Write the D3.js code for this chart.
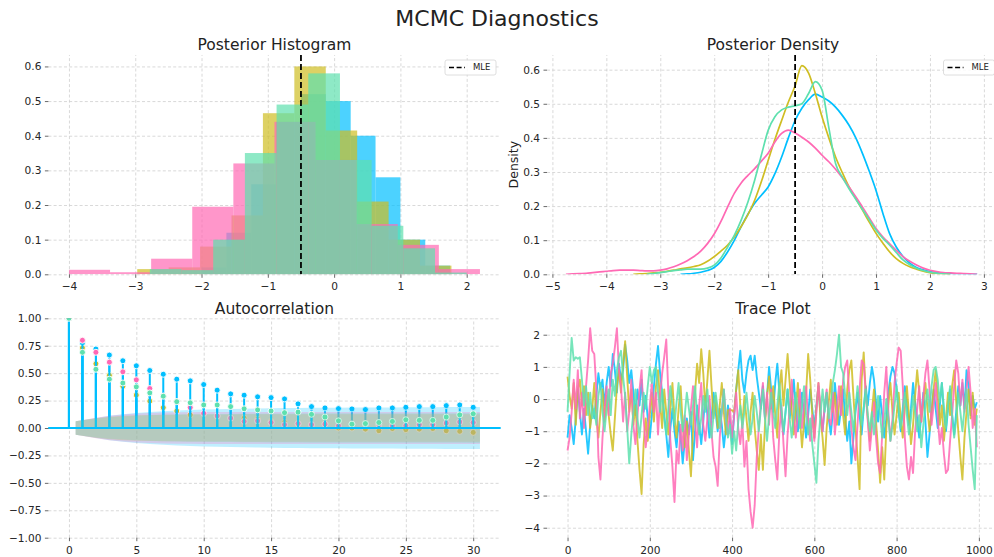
<!DOCTYPE html>
<html><head><meta charset="utf-8">
<script src="https://cdn.jsdelivr.net/npm/d3@7"></script>
<style>
html,body{margin:0;padding:0;background:#fff;}
svg{display:block;font-family:"DejaVu Sans",sans-serif;}
</style></head><body>
<svg id="c" width="994" height="557"></svg>
<script>
// ---------------- DATA ----------------
const chainKeys = ["blue", "yellow", "pink", "green"];           // drawing order
const chainColors = ["#00bfff", "#cfbd22", "#ff69b4", "#5ee0ae"];
const mleValue = -0.5;

// Posterior histogram (density-normalised bins)
const histStart = [-2.0, -2.97, -4.0, -2.78];
const histWidth = [0.375, 0.474, 0.62, 0.478];
const histBlue   = [0.02, 0.12, 0.26, 0.44, 0.52, 0.5, 0.4, 0.28, 0.1, 0.025];
const histYellow = [0.015, 0.02, 0.08, 0.17, 0.465, 0.6, 0.415, 0.21, 0.1, 0.025];
const histPink   = [0.013, 0.006, 0.045, 0.195, 0.32, 0.44, 0.33, 0.145, 0.085, 0.015];
const histGreen  = [0.015, 0.012, 0.1, 0.35, 0.49, 0.58, 0.33, 0.14, 0.075, 0.005];

// Posterior density (KDE), grid -4.75 .. 3.0 step 0.125
const densStart = -4.75, densStep = 0.125;
const densPink = [0.000,0.001,0.002,0.003,0.005,0.007,0.009,0.011,0.012,0.012,0.012,0.011,0.010,0.010,0.012,
  0.016,0.022,0.030,0.040,0.052,0.068,0.090,0.118,0.155,0.198,0.238,0.268,0.290,0.310,0.332,0.355,
  0.388,0.413,0.423,0.414,0.402,0.388,0.370,0.349,0.330,0.308,0.283,0.256,0.227,0.197,0.165,0.134,
  0.110,0.090,0.070,0.052,0.038,0.027,0.018,0.012,0.008,0.005,0.004,0.003,0.002,0.001,0.000,null];
const densYellow = [null,null,null,null,null,null,null,null,null,null,
  0.000,0.001,0.002,0.004,0.006,0.009,0.012,0.016,0.019,0.023,0.028,0.038,0.052,
  0.068,0.086,0.110,0.140,0.175,0.217,0.272,0.334,0.395,0.451,0.505,0.553,
  0.612,0.590,0.530,0.461,0.400,0.344,0.298,0.256,0.222,0.188,0.153,0.120,
  0.092,0.066,0.046,0.032,0.022,0.015,0.009,0.005,0.002,0.001,0.000,
  null,null,null,null,null];
const densGreen = [null,null,null,null,null,null,null,null,null,null,null,null,
  0.000,0.002,0.005,0.008,0.011,0.013,0.015,0.015,0.015,0.018,0.027,
  0.048,0.080,0.115,0.159,0.212,0.276,0.350,0.422,0.462,0.482,0.490,0.494,
  0.500,0.530,0.565,0.540,0.430,0.325,0.285,0.251,0.220,0.190,0.160,0.130,
  0.106,0.086,0.064,0.042,0.028,0.018,0.011,0.006,0.003,0.001,0.000,
  null,null,null,null,null];
const densBlue = [null,null,null,null,null,null,null,null,null,null,null,null,null,null,null,null,null,
  0.000,0.001,0.003,0.006,0.011,0.020,0.038,0.066,0.100,0.140,0.176,0.208,0.232,0.256,
  0.295,0.344,0.400,0.451,0.487,0.512,0.528,0.520,0.508,0.490,0.466,0.437,
  0.400,0.354,0.302,0.246,0.180,0.120,0.080,0.052,0.033,0.020,0.013,0.008,
  0.005,0.003,0.002,0.001,0.001,0.000,0.000,null];

// Autocorrelation, lags 0..30
const acfLags = d3.range(0, 31);
const acfBlue   = [1.0,0.775,0.72,0.665,0.613,0.567,0.524,0.49,0.445,0.43,0.396,0.345,0.311,0.299,0.284,0.277,0.265,0.22,0.195,0.183,0.177,0.174,0.168,0.183,0.183,0.189,0.195,0.195,0.204,0.21,0.189];
const acfYellow = [1.0,0.73,0.585,0.48,0.38,0.30,0.245,0.185,0.155,0.12,0.13,0.105,0.09,0.09,0.08,0.06,0.05,0.04,0.03,0.04,0.0,0.0,-0.01,-0.025,-0.005,-0.015,-0.01,-0.005,-0.025,-0.03,-0.04];
const acfPink   = [1.0,0.80,0.69,0.60,0.512,0.439,0.36,0.29,0.24,0.186,0.134,0.11,0.09,0.06,0.065,0.05,0.03,0.04,0.03,0.035,0.02,0.035,0.04,0.03,0.02,0.02,0.03,0.03,0.045,0.055,0.05];
const acfGreen  = [1.0,0.69,0.535,0.445,0.41,0.375,0.32,0.29,0.24,0.23,0.21,0.21,0.195,0.175,0.165,0.155,0.14,0.145,0.125,0.1,0.065,0.035,0.04,0.05,0.06,0.075,0.07,0.07,0.1,0.12,0.13];
const nSamples = 1000;

// Trace (every 5th iteration)
const traceStep = 5;
const traceBlue = [
 -1.2,-0.5,-0.9,-1.4,-0.6,0.3,-0.4,-1.1,-0.3,-1.0,-1.7,-0.8,-0.2,-0.6,0.1,0.8,0.3,0.6,-0.2,0.5,
 1.0,0.4,1.4,0.9,0.2,1.1,0.6,0.9,1.7,1.2,0.5,0.9,0.2,-0.5,0.3,-0.2,0.6,-0.4,0.1,-0.6,
 -1.2,-0.5,0.4,1.1,1.65,0.8,0.2,-0.5,-1.1,-1.8,-0.9,-0.3,-1.0,-1.5,-0.7,-1.2,-2.0,-1.3,-0.6,-1.1,
 -0.4,-1.9,-1.0,-0.2,-0.8,-1.4,-0.7,0.1,-0.5,-1.2,-0.6,0.2,-0.4,-1.0,-0.3,-0.8,-1.5,-0.9,-0.2,-0.7,
 -1.4,-0.5,0.3,0.9,1.5,0.6,0.2,0.8,1.2,1.35,0.9,1.35,0.7,0.2,-0.3,0.4,-0.6,0.1,1.0,0.3,
 -0.4,0.5,1.1,0.2,-0.5,-1.1,-0.4,0.3,-0.6,-0.1,0.6,-0.3,-1.0,-0.4,0.2,-0.6,-1.2,-0.5,0.3,-0.3,
 -0.9,-0.2,0.4,-0.5,-1.0,-0.3,0.2,-0.6,-1.1,-0.4,0.5,-0.2,-0.8,-0.3,0.3,-0.6,-1.3,-0.7,-2.0,-1.2,
 -0.4,0.2,-0.5,-1.1,-0.3,0.4,-0.2,0.5,1.0,0.6,-0.1,-0.7,0.1,-0.5,-1.2,-0.6,0.2,0.7,1.0,0.8,
 0.3,-0.4,-1.0,-0.3,0.4,-0.2,-0.8,-0.3,0.5,-0.1,-0.6,-1.2,-0.5,0.2,-0.7,-1.8,-1.1,-0.4,0.3,-0.3,
 -0.9,-0.2,0.5,-0.4,-1.0,-0.3,0.3,-0.5,-1.1,-0.4,0.4,-0.2,0.5,-0.3,0.9,0.4,-0.5,0.1,-0.3,-0.1];
const traceYellow = [
 0.7,0.1,-0.3,0.5,-0.8,0.3,0.6,-0.2,0.4,-0.5,0.2,-0.9,-0.3,0.5,-0.6,-1.2,-0.4,0.3,-0.7,0.1,
 -0.5,-1.1,-1.6,-0.6,0.4,0.9,0.2,1.1,1.8,0.7,-0.4,0.3,-0.8,-0.2,-1.3,-2.2,-2.95,-1.4,-0.6,-1.3,
 -0.5,0.2,-0.7,0.4,0.9,-0.1,-0.9,0.3,-0.4,-1.1,-0.3,0.5,-0.6,-1.2,-0.3,0.4,-0.8,-1.5,-0.7,-1.6,
 -2.4,-1.0,0.2,1.1,0.5,1.55,0.8,-0.3,0.6,1.5,0.4,-0.6,0.1,-0.9,-0.2,0.5,-0.4,-1.1,-0.35,-0.35,
 -0.35,-0.4,0.3,0.9,-0.2,-0.8,0.1,-0.6,-1.3,-0.4,0.2,-0.9,-1.6,-2.2,-1.1,-2.2,-0.8,0.1,0.7,-0.3,
 0.4,-0.5,-1.2,0.3,0.9,-0.2,0.6,1.4,0.5,-0.4,-1.1,-0.3,0.5,-0.6,-1.5,-0.7,0.2,1.4,0.6,-0.5,
 -1.2,-0.3,0.5,-0.6,-1.2,-2.05,-0.9,-0.1,0.6,-0.4,0.2,-0.8,-0.2,0.4,-0.5,-1.1,0.3,0.9,1.2,0.1,
 -0.9,-1.8,-2.8,0.6,1.45,0.2,-0.6,-1.3,-0.4,0.3,-0.7,-1.6,-2.6,-1.5,-2.5,-0.9,-0.2,0.5,-0.4,-1.1,
 -0.5,0.2,-0.6,-1.2,-0.3,0.4,-0.5,-1.4,-0.8,0.1,0.9,0.2,-0.7,-0.1,0.5,-0.3,-1.0,-0.4,0.3,0.9,
 0.1,-0.8,-0.2,-1.3,-0.6,0.2,-0.5,0.4,0.9,-0.1,-1.0,-1.8,-2.5,-1.2,-0.4,0.3,-0.6,0.2,-0.8,-0.3];
const tracePink = [
 -1.6,-1.2,-0.4,0.6,-0.3,0.9,-0.6,0.2,-0.9,0.4,1.2,2.2,1.5,1.4,0.3,-1.8,-2.5,-1.2,-0.3,0.4,
 -0.5,0.8,1.1,1.6,2.2,0.9,0.4,-0.7,0.2,-1.0,-0.4,0.6,-0.8,-1.4,-0.5,0.3,0.9,-0.6,-1.5,-0.9,
 -0.2,0.5,-0.4,0.2,-1.1,0.1,0.8,1.3,1.85,0.2,-1.3,-2.1,-3.2,-1.6,-2.0,-0.8,-1.6,-0.5,-1.9,-1.1,
 -0.3,0.4,-0.7,-1.5,-0.2,0.5,-0.8,-1.3,-0.6,0.1,-1.0,-1.8,-2.1,-2.7,-1.2,-0.4,0.3,-0.6,-1.1,-0.3,
 -1.2,-0.5,0.2,-0.9,-1.4,-0.7,-2.1,-1.3,-2.8,-3.5,-4.0,-3.3,-1.8,-0.9,-0.1,0.5,-0.6,0.2,-0.8,0.3,
 -1.2,-1.9,-2.5,-1.0,-0.2,-1.4,-2.4,-1.1,-0.3,0.6,-0.5,-1.2,-0.4,0.3,-0.9,-0.2,0.4,-0.7,-1.3,-0.5,
 -1.3,-0.4,0.5,-0.3,-1.0,-0.2,0.3,-0.6,-0.8,0.2,-1.1,-0.3,0.4,-0.5,0.6,1.0,1.2,0.1,-0.9,-1.5,
 -1.9,-0.8,0.3,1.2,1.1,0.2,-0.7,-1.6,-0.9,-0.1,-1.2,-2.0,-2.3,-1.1,0.2,1.0,-0.4,-1.3,-0.6,0.5,
 1.1,1.6,1.5,0.4,-1.2,-2.1,-2.5,-1.8,-2.3,-1.0,-0.3,0.4,-0.7,0.1,0.8,1.2,0.3,-0.8,-0.2,0.5,
 -0.6,-1.4,-0.9,-1.7,-2.3,-2.2,-1.3,-0.5,0.4,1.2,0.8,-0.2,0.6,-0.4,0.3,1.0,0.2,-0.9,-0.3,-1.5];
const traceGreen = [
 -0.4,0.8,1.9,1.2,1.3,1.25,1.3,0.6,-0.2,0.4,-0.5,0.2,-0.6,-0.3,-0.8,0.1,0.5,-0.4,-1.0,-0.3,
 0.3,-0.5,0.6,0.1,0.9,1.3,1.5,0.7,0.1,-0.9,-2.0,-1.1,-0.4,0.3,-0.6,-1.2,-0.5,0.2,-0.3,0.4,
 1.0,0.5,0.9,1.0,0.2,-0.4,0.3,-0.6,-1.1,-0.3,0.4,-0.2,-0.8,-0.1,0.5,-0.4,-1.0,-0.5,0.2,-0.3,
 -0.8,-0.2,0.4,-0.5,-1.1,-0.6,0.1,-0.4,0.3,-0.7,-1.2,-0.5,0.2,-0.3,-0.9,-0.4,0.3,-0.6,-1.2,-0.8,
 -1.7,-1.0,-1.6,-0.7,-0.2,-0.9,-0.4,0.2,-0.5,-1.1,-0.6,0.1,-0.4,-1.0,-0.3,0.3,-0.6,-1.3,-0.5,0.2,
 -0.4,-0.9,-0.2,0.5,-0.3,-1.0,-0.4,0.3,-0.6,-1.2,-0.5,0.2,-0.3,-0.9,-0.2,0.4,-0.5,-1.1,-0.6,-1.4,
 -2.0,-2.6,-1.3,-0.5,0.3,-0.4,0.2,-0.6,-0.1,0.5,0.9,1.4,2.0,1.0,0.8,0.1,-0.5,0.2,-0.4,-1.0,
 -0.3,0.4,-0.2,-0.8,-0.3,0.3,-0.5,-1.0,-0.4,-1.1,-0.6,0.1,-0.5,-1.2,-0.7,0.0,-0.6,-1.3,-0.8,-0.2,
 0.4,-0.3,-0.9,-0.4,0.2,-0.5,-1.1,-0.6,0.1,-0.4,-1.0,-0.5,-1.5,-0.8,-0.2,0.3,-0.4,0.4,0.9,1.0,
 0.6,-0.1,0.5,-0.3,-0.9,-0.2,0.4,-0.5,-1.2,-0.6,0.2,-0.4,-1.0,-0.3,0.3,-0.8,-1.5,-2.2,-2.8,-0.5];

// Tick values
const histXTicks = [-4, -3, -2, -1, 0, 1, 2];
const histYTicks = [0, 0.1, 0.2, 0.3, 0.4, 0.5, 0.6];
const densXTicks = [-5, -4, -3, -2, -1, 0, 1, 2, 3];
const densYTicks = [0, 0.1, 0.2, 0.3, 0.4, 0.5, 0.6];
const acfXTicks = [0, 5, 10, 15, 20, 25, 30];
const acfYTicks = [-1, -0.75, -0.5, -0.25, 0, 0.25, 0.5, 0.75, 1];
const traceXTicks = [0, 200, 400, 600, 800, 1000];
const traceYTicks = [-4, -3, -2, -1, 0, 1, 2];

const histData = [histBlue, histYellow, histPink, histGreen];
const densData = [densBlue, densYellow, densPink, densGreen];
const acfData = [acfBlue, acfYellow, acfPink, acfGreen];
const traceData = [traceBlue, traceYellow, tracePink, traceGreen];

// ---------------- LAYOUT ----------------
const svg = d3.select("#c");
const W = 994, H = 557;
const colL = [48.4, 500.5], colR = [547, 999];
const rowT = [55, 274.3], rowB = [318.3, 537.7];
const TEXT = "#222";

svg.append("text").attr("x", W / 2).attr("y", 26).attr("text-anchor", "middle")
  .attr("font-size", 22).attr("fill", TEXT).text("MCMC Diagnostics");

const defs = svg.append("defs");
let clipId = 0;

function makePanel(xr, yr, xDom, yDom, xTicks, yTicks, xFmt, yFmt, title) {
  const x = d3.scaleLinear().domain(xDom).range(xr);
  const y = d3.scaleLinear().domain(yDom).range([yr[1], yr[0]]);
  const g = svg.append("g");
  const id = "clip" + (clipId++);
  defs.append("clipPath").attr("id", id).append("rect")
    .attr("x", xr[0]).attr("y", yr[0]).attr("width", xr[1] - xr[0]).attr("height", yr[1] - yr[0]);
  // grid
  const gx = g.append("g").attr("transform", `translate(0,${yr[1]})`)
    .call(d3.axisBottom(x).tickValues(xTicks).tickSize(-(yr[1] - yr[0])).tickFormat(""));
  const gy = g.append("g").attr("transform", `translate(${xr[0]},0)`)
    .call(d3.axisLeft(y).tickValues(yTicks).tickSize(-(xr[1] - xr[0])).tickFormat(""));
  [gx, gy].forEach(a => {
    a.select(".domain").remove();
    a.selectAll("line").attr("stroke", "#cfcfcf").attr("stroke-width", 0.8).attr("stroke-dasharray", "3,2.2");
  });
  const plot = g.append("g").attr("clip-path", `url(#${id})`);
  // ticks
  const ax = g.append("g").attr("transform", `translate(0,${yr[1]})`)
    .call(d3.axisBottom(x).tickValues(xTicks).tickSize(3.5).tickPadding(5).tickFormat(d3.format(xFmt)));
  const ay = g.append("g").attr("transform", `translate(${xr[0]},0)`)
    .call(d3.axisLeft(y).tickValues(yTicks).tickSize(3.5).tickPadding(3.5).tickFormat(d3.format(yFmt)));
  [ax, ay].forEach(a => {
    a.select(".domain").remove();
    a.selectAll("line").attr("stroke", "#444").attr("stroke-width", 0.8);
    a.selectAll("text").attr("font-size", 10.6).attr("fill", "#262626").attr("font-family", "DejaVu Sans");
  });
  svg.append("text").attr("x", (xr[0] + xr[1]) / 2).attr("y", yr[0] - 4.6)
    .attr("text-anchor", "middle").attr("font-size", 15.5).attr("fill", TEXT).text(title);
  return { x, y, plot, g };
}

function legend(p, xr, yr) {
  const w = 51, h = 15, x0 = xr[1] - 4.5 - w, y0 = yr[0] + 5;
  const lg = svg.append("g");
  lg.append("rect").attr("x", x0).attr("y", y0).attr("width", w).attr("height", h).attr("rx", 2)
    .attr("fill", "#fff").attr("fill-opacity", 0.85).attr("stroke", "#d6d6d6").attr("stroke-width", 0.8);
  lg.append("line").attr("x1", x0 + 4).attr("x2", x0 + 20).attr("y1", y0 + h / 2).attr("y2", y0 + h / 2)
    .attr("stroke", "#000").attr("stroke-width", 1.6).attr("stroke-dasharray", "5,2.6");
  lg.append("text").attr("x", x0 + 28).attr("y", y0 + h / 2).attr("dy", "0.35em")
    .attr("font-size", 8.5).attr("fill", TEXT).text("MLE");
}

// ---- Histogram ----
{
  const p = makePanel(colL, rowT, [-4.31, 2.51], [0, 0.633], histXTicks, histYTicks, "d", ".1f", "Posterior Histogram");
  histData.forEach((hs, c) => {
    const s = histStart[c], w = histWidth[c];
    p.plot.append("g").selectAll("rect").data(hs).join("rect")
      .attr("x", (d, i) => p.x(s + i * w))
      .attr("width", (d, i) => p.x(s + (i + 1) * w) - p.x(s + i * w))
      .attr("y", d => p.y(d))
      .attr("height", d => p.y(0) - p.y(d))
      .attr("fill", chainColors[c]).attr("fill-opacity", 0.7);
  });
  p.plot.append("line").attr("x1", p.x(mleValue)).attr("x2", p.x(mleValue))
    .attr("y1", rowT[0]).attr("y2", rowT[1])
    .attr("stroke", "#000").attr("stroke-width", 1.8).attr("stroke-dasharray", "6,3");
  legend(p, colL, rowT);
}

// ---- Density ----
{
  const p = makePanel(colR, rowT, [-5.1, 3.28], [0, 0.643], densXTicks, densYTicks, "d", ".1f", "Posterior Density");
  const line = d3.line().defined(d => d[1] != null)
    .x(d => p.x(d[0])).y(d => p.y(d[1])).curve(d3.curveMonotoneX);
  densData.forEach((vals, c) => {
    const pts = vals.map((v, i) => [densStart + i * densStep, v]);
    p.plot.append("path").attr("d", line(pts)).attr("fill", "none")
      .attr("stroke", chainColors[c]).attr("stroke-width", 1.7);
  });
  p.plot.append("line").attr("x1", p.x(mleValue)).attr("x2", p.x(mleValue))
    .attr("y1", rowT[0]).attr("y2", rowT[1])
    .attr("stroke", "#000").attr("stroke-width", 1.8).attr("stroke-dasharray", "6,3");
  svg.append("text").attr("transform", `translate(${colR[0] - 33},${(rowT[0] + rowT[1]) / 2}) rotate(-90)`)
    .attr("text-anchor", "middle").attr("dy", "0.35em").attr("font-size", 12.5).attr("fill", TEXT).text("Density");
  legend(p, colR, rowT);
}

// ---- Autocorrelation ----
{
  const p = makePanel(colL, rowB, [-1.525, 32.025], [-1, 1], acfXTicks, acfYTicks, "d", ".2f", "Autocorrelation");
  const area = d3.area().x(d => p.x(d[0])).y0(d => p.y(-d[1])).y1(d => p.y(d[1]));
  acfData.forEach((vals, c) => {
    // stems (matplotlib vlines default colour)
    p.plot.append("g").selectAll("line").data(acfLags).join("line")
      .attr("x1", d => p.x(d)).attr("x2", d => p.x(d))
      .attr("y1", p.y(0)).attr("y2", d => p.y(vals[d]))
      .attr("stroke", chainColors[0]).attr("stroke-width", 2);
    // markers
    p.plot.append("g").selectAll("circle").data(acfLags).join("circle")
      .attr("cx", d => p.x(d)).attr("cy", d => p.y(vals[d])).attr("r", 3)
      .attr("fill", chainColors[c]).attr("stroke", "#fff").attr("stroke-width", 0.9);
    // Bartlett confidence band
    let cum = 0;
    const band = [];
    for (let k = 1; k < vals.length; k++) {
      const se = Math.sqrt((1 + 2 * cum) / nSamples);
      band.push([k, 1.96 * se]);
      cum += vals[k] * vals[k];
    }
    band[0] = [0.5, band[0][1]];
    band[band.length - 1] = [30.5, band[band.length - 1][1]];
    p.plot.append("path").attr("d", area(band)).attr("fill", chainColors[c]).attr("fill-opacity", 0.25);
    // zero line
    p.plot.append("line").attr("x1", colL[0]).attr("x2", colL[1]).attr("y1", p.y(0)).attr("y2", p.y(0))
      .attr("stroke", chainColors[0]).attr("stroke-width", 2);
  });
}

// ---- Trace ----
{
  const p = makePanel(colR, rowB, [-49.95, 1048.95], [-4.31, 2.51], traceXTicks, traceYTicks, "d", "d", "Trace Plot");
  const line = d3.line().x((d, i) => p.x(i * traceStep)).y(d => p.y(d));
  traceData.forEach((vals, c) => {
    p.plot.append("path").attr("d", line(vals)).attr("fill", "none")
      .attr("stroke", chainColors[c]).attr("stroke-width", 1.9).attr("stroke-opacity", 0.85)
      .attr("stroke-linejoin", "round");
  });
}
</script>
</body></html>
